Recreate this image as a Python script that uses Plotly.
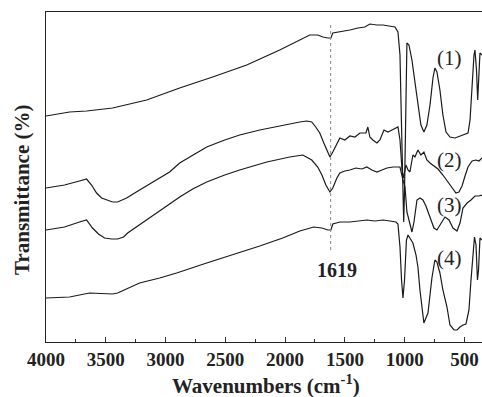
import plotly.graph_objects as go

# ---- data (wavenumber in cm-1, transmittance in arbitrary offset units) ----
wn1 = [4000, 3803, 3661, 3443, 3158, 2882, 2606, 2321, 2045, 1877, 1794, 1727, 1684, 1642, 1617, 1601, 1542, 1458, 1391, 1333, 1291, 1232, 1182, 1123, 1081, 1056, 1039, 1031, 1022, 1014, 1008, 1001, 993, 985, 981, 964, 939, 914, 889, 864, 839, 814, 788, 763, 747, 730, 705, 680, 654, 621, 579, 537, 495, 470, 453, 436, 420, 412, 399, 389, 378, 370, 353]
t1 = [226, 230, 231, 234, 242, 254, 265, 277, 292, 302, 307, 307, 305, 304, 304, 309, 310, 312, 314, 315, 318, 317, 317, 316, 315, 310, 287, 242, 182, 132, 120, 152, 232, 287, 299, 297, 282, 260, 237, 217, 210, 217, 237, 264, 274, 270, 252, 227, 210, 205, 204, 206, 208, 209, 222, 257, 287, 292, 272, 242, 270, 289, 287]

wn2 = [4000, 3845, 3720, 3661, 3619, 3577, 3535, 3493, 3443, 3401, 3359, 3326, 3217, 3075, 2966, 2882, 2773, 2656, 2505, 2380, 2212, 2020, 1877, 1819, 1777, 1744, 1710, 1676, 1642, 1625, 1601, 1567, 1542, 1500, 1458, 1416, 1374, 1324, 1308, 1291, 1266, 1232, 1207, 1173, 1140, 1106, 1056, 1039, 1022, 1010, 989, 972, 956, 931, 914, 889, 864, 839, 814, 788, 755, 721, 680, 638, 604, 571, 546, 520, 495, 470, 436, 403, 378, 353]
t2 = [154, 157, 161, 163, 157, 149, 144, 142, 140, 140, 142, 144, 152, 162, 170, 179, 187, 195, 202, 207, 212, 217, 220, 221, 220, 215, 209, 199, 189, 185, 190, 199, 204, 202, 206, 205, 209, 209, 215, 205, 202, 199, 202, 212, 210, 212, 215, 202, 172, 164, 177, 172, 170, 187, 185, 192, 187, 190, 182, 179, 176, 173, 167, 160, 154, 149, 150, 156, 166, 175, 181, 182, 181, 184]

wn3 = [4000, 3845, 3720, 3661, 3611, 3561, 3510, 3451, 3401, 3351, 3317, 3217, 3075, 2966, 2882, 2773, 2656, 2505, 2380, 2153, 1961, 1852, 1819, 1777, 1727, 1692, 1659, 1625, 1601, 1567, 1542, 1500, 1458, 1408, 1358, 1316, 1274, 1232, 1190, 1148, 1098, 1039, 1014, 997, 981, 956, 939, 922, 897, 872, 847, 822, 788, 755, 730, 696, 663, 629, 596, 562, 537, 512, 478, 445, 412, 378, 353]
t3 = [112, 115, 120, 122, 114, 108, 104, 103, 103, 105, 109, 117, 129, 138, 145, 153, 160, 167, 172, 180, 185, 187, 185, 182, 175, 167, 157, 150, 154, 164, 169, 171, 172, 174, 173, 175, 172, 170, 172, 174, 175, 175, 162, 155, 130, 117, 110, 120, 142, 144, 142, 136, 125, 114, 112, 118, 125, 122, 114, 111, 119, 134, 139, 142, 146, 146, 147]

wn4 = [4000, 3803, 3636, 3510, 3443, 3401, 3217, 3049, 2907, 2656, 2438, 2212, 2020, 1877, 1761, 1692, 1642, 1617, 1601, 1542, 1458, 1374, 1316, 1249, 1182, 1123, 1073, 1056, 1039, 1026, 1014, 1001, 993, 985, 972, 956, 931, 905, 889, 872, 855, 839, 822, 805, 788, 772, 747, 730, 705, 680, 646, 621, 587, 562, 537, 512, 487, 462, 445, 428, 416, 403, 391, 382, 370, 353]
t4 = [44, 45, 49, 48, 48, 49, 59, 64, 69, 79, 87, 96, 104, 111, 115, 114, 112, 112, 118, 120, 120, 121, 122, 121, 122, 121, 120, 118, 95, 62, 44, 62, 92, 102, 107, 104, 99, 87, 75, 52, 32, 19, 24, 29, 47, 64, 82, 80, 69, 52, 35, 17, 12, 12, 15, 17, 18, 32, 62, 92, 105, 97, 62, 72, 104, 102]

series = [(wn1, t1), (wn2, t2), (wn3, t3), (wn4, t4)]
curve_labels = ["(1)", "(2)", "(3)", "(4)"]
label_pos_wn = [621, 621, 621, 621]
label_pos_t = [284, 182, 137, 84]

marker_wn = 1619
marker_label = "1619"
x_ticks = [4000, 3500, 3000, 2500, 2000, 1500, 1000, 500]

SERIF = "Liberation Serif, Times New Roman, serif"

fig = go.Figure()
for wn, t in series:
    fig.add_trace(go.Scatter(x=wn, y=t, mode="lines",
                             line=dict(color="#1a1a1a", width=1.2),
                             showlegend=False, hoverinfo="skip"))

# dotted marker line
fig.add_trace(go.Scatter(x=[marker_wn, marker_wn], y=[92, 320], mode="lines",
                         line=dict(color="#888888", width=1, dash="dot"),
                         showlegend=False, hoverinfo="skip"))

for lab, xw, yt in zip(curve_labels, label_pos_wn, label_pos_t):
    fig.add_annotation(x=xw, y=yt, text=lab, showarrow=False,
                       font=dict(family=SERIF, size=21, color="#222"),
                       xanchor="center", yanchor="middle")

fig.add_annotation(x=1567, y=72, text=f"<b>{marker_label}</b>", showarrow=False,
                   font=dict(family=SERIF, size=20, color="#222"),
                   xanchor="center", yanchor="middle")

# axis titles
fig.add_annotation(xref="paper", yref="paper", x=(266 - 46) / 436, y=(342 - 384) / 330,
                   text="<b>Wavenumbers (cm<sup>-1</sup>)</b>", showarrow=False,
                   font=dict(family=SERIF, size=21, color="#222"),
                   xanchor="center", yanchor="middle")
fig.add_annotation(xref="paper", yref="paper", x=(22 - 46) / 436, y=(342 - 190) / 330,
                   text="<b>Transmittance (%)</b>", showarrow=False, textangle=-90,
                   font=dict(family=SERIF, size=21, color="#222"),
                   xanchor="center", yanchor="middle")

fig.update_layout(
    width=482, height=397,
    margin=dict(l=46, r=0, t=12, b=55),
    paper_bgcolor="white", plot_bgcolor="white",
    xaxis=dict(range=[4000, 353], tickvals=x_ticks,
               ticktext=[f"<b>{v}</b>" for v in x_ticks],
               ticks="inside", ticklen=5, tickcolor="#333",
               minor=dict(dtick=250, ticks="inside", ticklen=3, tickcolor="#333"),
               showline=True, linecolor="#222", linewidth=1, mirror=True,
               showgrid=False, zeroline=False,
               tickfont=dict(family=SERIF, size=19, color="#222")),
    yaxis=dict(range=[0, 330], showticklabels=False, ticks="",
               showline=True, linecolor="#222", linewidth=1,
               showgrid=False, zeroline=False),
)

fig.write_html("out.html", config={"displayModeBar": False},
               post_script="document.body.style.margin='0';document.body.style.overflow='hidden';")
